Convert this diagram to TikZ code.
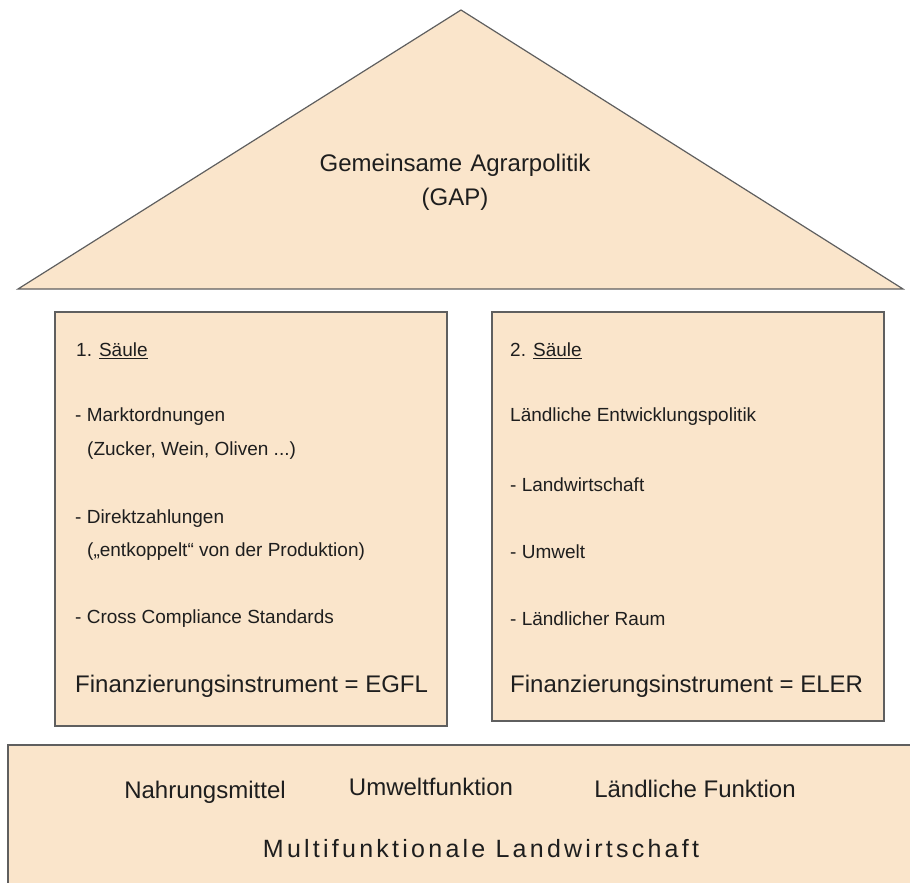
\documentclass[tikz,border=0pt]{standalone}
\usepackage{fontspec}
\setmainfont{Liberation Sans}
\usetikzlibrary{positioning}
\definecolor{wall}{RGB}{250,229,203}
\definecolor{edge}{RGB}{95,95,95}
\definecolor{ink}{RGB}{30,30,30}
\tikzset{
  part/.style={fill=wall,draw=edge,line width=1.2pt},
  txt/.style={anchor=west,inner sep=0pt,text=ink,font=\fontsize{19}{22}\selectfont},
  big/.style={inner sep=0pt,text=ink,font=\fontsize{24}{28}\selectfont}
}
\begin{document}
\begin{tikzpicture}[x=1pt,y=-1pt]
    \useasboundingbox (0,0) rectangle (910,883);
    % roof
    \coordinate (L) at (18,289);
    \coordinate (T) at (461,10);
    \coordinate (R) at (903,289);
    \filldraw[part] (L)--(T)--(R)--cycle;
    \node[big,align=center,text width=400pt] (gap) at (455,182) {Gemeinsame Agrarpolitik\\[6pt](GAP)};
    % pillars
    \filldraw[part] (55,312) rectangle (447,726);
    \filldraw[part] (492,312) rectangle (884,721);
    \node[txt] (s1) at (76,351) {1. \underline{Säule}};
    \node[txt] (m1) at (75,417) {- Marktordnungen};
    \node[txt] (m2) at (87,451) {(Zucker, Wein, Oliven ...)};
    \node[txt] (d1) at (75,519) {- Direktzahlungen};
    \node[txt] (d2) at (87,552) {(„entkoppelt“ von der Produktion)};
    \node[txt] (cc) at (75,619) {- Cross Compliance Standards};
    \node[big,anchor=west] (egfl) at (75,686) {Finanzierungsinstrument = EGFL};
    \node[txt] (s2) at (510,351) {2. \underline{Säule}};
    \node[txt] (le) at (510,417) {Ländliche Entwicklungspolitik};
    \node[txt] (lw) at (510,485) {- Landwirtschaft};
    \node[txt] (uw) at (510,552) {- Umwelt};
    \node[txt] (lr) at (510,619) {- Ländlicher Raum};
    \node[big,anchor=west] (eler) at (510,686) {Finanzierungsinstrument = ELER};
    % base
    \fill[wall] (8,745) rectangle (910,883);
    \draw[edge,line width=1.2pt] (8,883)--(8,745)--(910,745);
    \node[big,anchor=base] (nm) at (205,798) {Nahrungsmittel};
    \node[big,anchor=base] (uf) at (431,795) {Umweltfunktion};
    \node[big,anchor=base] (lf) at (695,797) {Ländliche Funktion};
    \node[big,anchor=base,font=\fontsize{25}{28}\selectfont\addfontfeature{LetterSpace=13}] (ml) at (481,857) {Multifunktionale Landwirtschaft};
  \end{tikzpicture}
\end{document}
